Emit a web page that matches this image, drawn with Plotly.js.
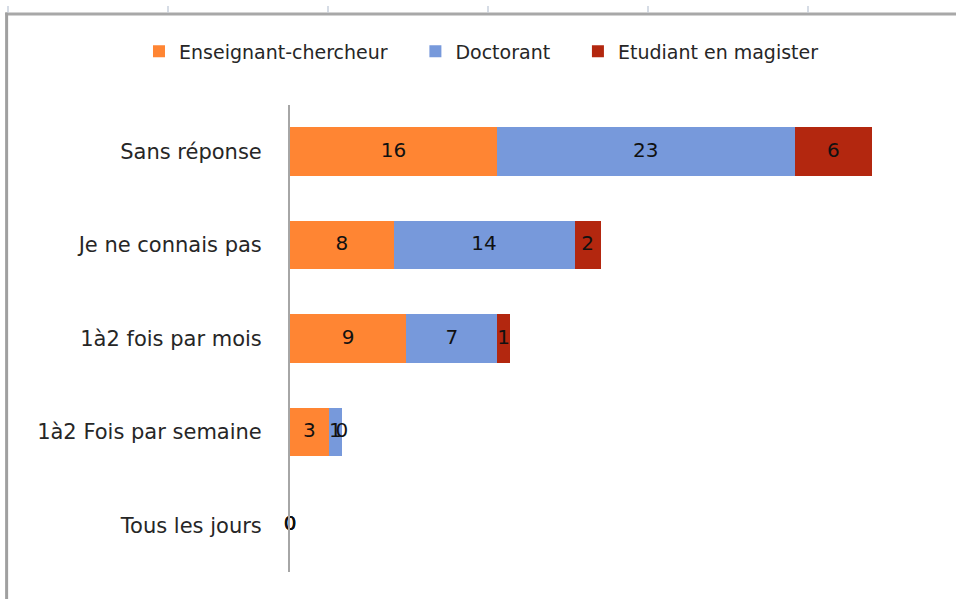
<!DOCTYPE html>
<html>
<head>
<meta charset="utf-8">
<script src="https://cdn.plot.ly/plotly-3.0.1.min.js"></script>
<style>html,body{margin:0;padding:0;background:#fff;}#chart{width:956px;height:599px;}</style>
</head>
<body>
<div id="chart"></div>
<script>
// Data (top to bottom as displayed)
const categories = ["Sans réponse", "Je ne connais pas", "1à2 fois par mois", "1à2 Fois par semaine", "Tous les jours"];
const seriesNames = ["Enseignant-chercheur", "Doctorant", "Etudiant en magister"];
const enseignant = [16, 8, 9, 3, 0];
const doctorant = [23, 14, 7, 1, 0];
const magister = [6, 2, 1, 0, 0];
const colors = ["#FF8533", "#7799DB", "#B3270F"];

const FONT = "'DejaVu Sans', sans-serif";
const series = [enseignant, doctorant, magister];
const traces = [];
series.forEach((vals, i) => {
  traces.push({
    type: "bar", orientation: "h",
    name: seriesNames[i] + (i < series.length - 1 ? "\u2002\u2002\u2009" : ""),
    y: categories, x: vals,
    marker: {color: colors[i], line: {width: 0}},
    hoverinfo: "x+name"
  });
});
// Data labels at segment midpoints (so zero-valued segments still show a label)
series.forEach((vals, i) => {
  const mids = vals.map((v, k) => {
    let base = 0;
    for (let j = 0; j < i; j++) base += series[j][k];
    return base + v / 2;
  });
  traces.push({
    type: "scatter", mode: "text", y: categories, x: mids,
    text: vals.map(String), textposition: "middle center",
    textfont: {family: FONT, size: 20, color: "#111"},
    showlegend: false, hoverinfo: "skip", cliponaxis: false
  });
});

const layout = {
  width: 956, height: 599,
  paper_bgcolor: "#fff", plot_bgcolor: "#fff",
  margin: {l: 290, r: 19, t: 105, b: 27, autoexpand: false},
  barmode: "stack", bargap: 0.48,
  font: {family: FONT, size: 19, color: "#262626"},
  xaxis: {range: [0, 50], showgrid: false, zeroline: false, showline: false, showticklabels: false, ticks: "", fixedrange: true},
  yaxis: {categoryorder: "array", categoryarray: categories.slice().reverse(), autorange: false, range: [-0.5, 4.5],
          showline: true, linecolor: "#A6A6A6", linewidth: 2, ticks: "", showgrid: false, zeroline: false,
          ticklabelstandoff: 22, tickfont: {family: FONT, size: 21, color: "#262626"}},
  legend: {orientation: "h", x: -0.2334, xanchor: "left", y: 1.115, yanchor: "middle",
           font: {family: FONT, size: 19, color: "#262626"}, itemwidth: 30, traceorder: "normal"},
  shapes: [
    {type: "line", xref: "paper", yref: "paper", x0: -0.44, x1: 1.03, y0: 1.195, y1: 1.195, line: {color: "#A8A8A8", width: 3}},
    {type: "line", xref: "paper", yref: "paper", x0: -0.438, x1: -0.438, y0: 1.198, y1: -0.06, line: {color: "#A0A0A0", width: 3}}
  ].concat([8, 168, 328, 488, 648, 808].map(px => ({
    type: "line", xref: "paper", yref: "paper",
    x0: (px - 290) / 647, x1: (px - 290) / 647, y0: 1.198, y1: 1.212,
    line: {color: "#C8D0DC", width: 1.5}
  }))),
  showlegend: true
};

Plotly.newPlot("chart", traces, layout, {displayModeBar: false, staticPlot: true});
</script>
</body>
</html>
